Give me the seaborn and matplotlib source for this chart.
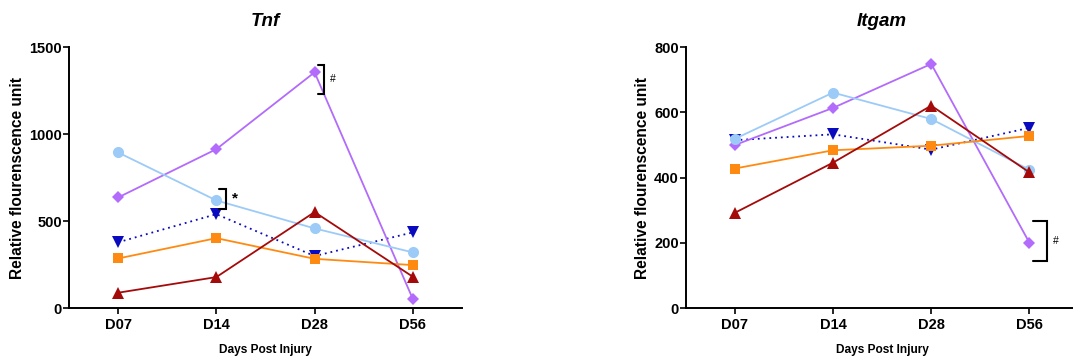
import numpy as np
import pandas as pd
import matplotlib
matplotlib.use("Agg")
import matplotlib.pyplot as plt
import seaborn as sns

sns.set_theme(style="ticks")
plt.rcParams["font.family"] = ["Liberation Sans", "DejaVu Sans"]
plt.rcParams["text.color"] = "black"
plt.rcParams["axes.labelcolor"] = "black"
plt.rcParams["axes.titlecolor"] = "black"

days = ["D07", "D14", "D28", "D56"]
groups = ["Group A", "Group B", "Group C", "Group D", "Group E"]

# Tnf expression per group across time points
tnf_a = [378, 540, 299, 435]     # dark blue, dotted
tnf_b = [636, 914, 1356, 52]     # purple
tnf_c = [895, 619, 458, 320]     # light blue
tnf_d = [285, 402, 283, 247]     # orange
tnf_e = [88, 178, 552, 180]      # dark red

# Itgam expression per group across time points
itg_a = [515, 533, 486, 553]
itg_b = [500, 614, 749, 200]
itg_c = [519, 661, 580, 424]
itg_d = [428, 484, 498, 528]
itg_e = [292, 446, 621, 416]

colors = {"Group A": "#0A0ABE", "Group B": "#B26BFA", "Group C": "#9CCBF7",
          "Group D": "#FF8A12", "Group E": "#A50A0A"}
markers = {"Group A": "v", "Group B": "D", "Group C": "o",
           "Group D": "s", "Group E": "^"}
msize = {"Group A": 8, "Group B": 6, "Group C": 8, "Group D": 7.5, "Group E": 8}


def long_frame(series):
    rows = []
    for g, vals in zip(groups, series):
        for d, v in zip(days, vals):
            rows.append({"day": d, "group": g, "value": v})
    return pd.DataFrame(rows)


fig = plt.figure(figsize=(10.73, 3.6), dpi=100)
ax1 = fig.add_axes([0.0643, 0.1444, 0.3662, 0.7242])
ax2 = fig.add_axes([0.6390, 0.1444, 0.3662, 0.7242])

panels = [
    (ax1, "Tnf", [tnf_a, tnf_b, tnf_c, tnf_d, tnf_e], 1500, 500),
    (ax2, "Itgam", [itg_a, itg_b, itg_c, itg_d, itg_e], 800, 200),
]

for ax, title, series, ymax, step in panels:
    df = long_frame(series)
    for g in groups:
        sub = df[df["group"] == g]
        sns.lineplot(data=sub, x="day", y="value", ax=ax, color=colors[g],
                     marker=markers[g], markersize=msize[g],
                     markeredgewidth=0, linewidth=1.3,
                     linestyle=(0, (1, 2.2)) if g == "Group A" else "-",
                     legend=False)
    ax.set_xlim(-0.5, 3.5)
    ax.set_ylim(0, ymax)
    ax.set_yticks(np.arange(0, ymax + 1, step))
    ax.set_title(title, fontsize=13.5, fontweight="bold", style="italic", pad=15)
    ax.set_xlabel("Days Post Injury", fontsize=8.6, fontweight="bold", labelpad=8)
    ax.set_ylabel("Relative flourenscence unit", fontsize=11.2, fontweight="bold",
                  labelpad=3)
    for side in ["top", "right"]:
        ax.spines[side].set_visible(False)
    for side in ["left", "bottom"]:
        ax.spines[side].set_color("black")
        ax.spines[side].set_linewidth(1.4)
    ax.tick_params(axis="both", colors="black", width=1.2, length=4, labelsize=10.5)
    ax.tick_params(axis="y", pad=1)
    for lab in ax.get_xticklabels() + ax.get_yticklabels():
        lab.set_fontweight("bold")


def bracket(ax, x0, x1, y0, y1, text, size, weight):
    ax.plot([x0, x1, x1, x0], [y0, y0, y1, y1], color="black", lw=1.5,
            solid_joinstyle="miter", clip_on=False)
    ax.text(x1 + 0.06, (y0 + y1) / 2, text, fontsize=size, fontweight=weight,
            va="center", ha="left", color="black")


bracket(ax1, 2.03, 2.10, 1234, 1398, "#", 7.5, "normal")
bracket(ax1, 1.025, 1.10, 571, 686, "*", 11, "bold")
bracket(ax2, 3.04, 3.18, 145, 266, "#", 7.5, "normal")

fig.savefig("out.png", dpi=100)
